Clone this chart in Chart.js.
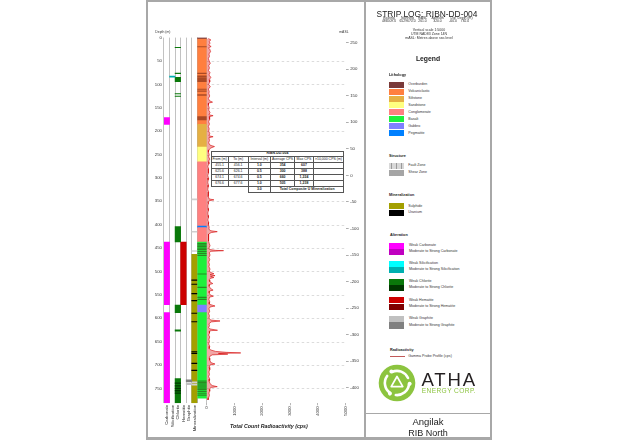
<!DOCTYPE html>
<html><head><meta charset="utf-8">
<script src="https://cdn.jsdelivr.net/npm/chart.js@4/dist/chart.umd.min.js"></script>
<style>
body{margin:0;background:#fff;width:640px;height:440px;overflow:hidden;position:relative;font-family:"Liberation Sans",Arial,sans-serif;color:#222;}
.t{position:absolute;white-space:nowrap;line-height:1;}
.c{transform:translateX(-50%);}
.b{font-weight:bold;}
.sw{position:absolute;left:389px;width:15px;}
#tbl{position:absolute;left:210.7px;top:151px;width:132.6px;border-collapse:collapse;table-layout:fixed;font-size:3.5px;background:#fff;color:#222;}
#tbl td{border:0.6px solid #555;padding:0;text-align:center;line-height:1;overflow:hidden;white-space:nowrap;}
#tbl td.n{border:none;}
#tbl td.k{font-weight:bold;}
</style></head><body>

<!-- page frame -->
<div style="position:absolute;left:146px;top:0;width:342px;height:435px;border:2px solid #a8a8a8;border-bottom-width:3px;"></div>
<div style="position:absolute;left:364px;top:0;width:2px;height:440px;background:#a8a8a8;"></div>
<div style="position:absolute;left:366px;top:412.5px;width:124px;height:1.5px;background:#a8a8a8;"></div>

<canvas id="c" width="216" height="411" style="position:absolute;left:148px;top:29px;"></canvas>

<div class="t" style="left:155.3px;top:30.6px;font-size:3.4px;color:#333">Depth (m)</div>
<div class="t" style="left:339.3px;top:30.6px;font-size:3.4px;color:#333">mASL</div>
<div class="t b" style="left:230px;top:424.3px;font-size:5.3px;font-style:italic;color:#222">Total Count Radioactivity (cps)</div>

<table id="tbl"></table>

<!-- right panel header -->
<div class="t c" style="left:427px;top:9.5px;font-size:8.4px">STRIP LOG: RIBN-DD-004</div>
<div class="t c" style="left:389px;top:17px;font-size:3.4px;color:#333">Easting</div>
<div class="t c" style="left:407.5px;top:17px;font-size:3.4px;color:#333">Northing</div>
<div class="t c" style="left:422.5px;top:17px;font-size:3.4px;color:#333">mASL</div>
<div class="t c" style="left:437.5px;top:17px;font-size:3.4px;color:#333">Azimuth</div>
<div class="t c" style="left:453px;top:17px;font-size:3.4px;color:#333">Dip</div>
<div class="t c" style="left:465px;top:17px;font-size:3.4px;color:#333">Depth (m)</div>
<div class="t c" style="left:389px;top:20px;font-size:3.4px;color:#333">486509.0</div>
<div class="t c" style="left:407.5px;top:20px;font-size:3.4px;color:#333">6529670.0</div>
<div class="t c" style="left:422.5px;top:20px;font-size:3.4px;color:#333">261.0</div>
<div class="t c" style="left:437.5px;top:20px;font-size:3.4px;color:#333">320.0</div>
<div class="t c" style="left:453px;top:20px;font-size:3.4px;color:#333">-60.0</div>
<div class="t c" style="left:465px;top:20px;font-size:3.4px;color:#333">782.0</div>
<div class="t c" style="left:429px;top:29px;font-size:3.5px;color:#333">Vertical scale 1:5000</div>
<div class="t c" style="left:429px;top:33px;font-size:3.5px;color:#333">UTM NAD83 Zone 14N</div>
<div class="t c" style="left:429px;top:37px;font-size:3.5px;color:#333">mASL: Metres above sea level</div>

<div class="t c b" style="left:428px;top:56.1px;font-size:6.8px">Legend</div>

<div class="t b" style="left:389px;top:74.1px;font-size:3.8px">Lithology</div>
<div id="lithLegend"></div>

<div class="t b" style="left:389px;top:155.4px;font-size:3.8px">Structure</div>
<div class="sw" style="top:162.7px;height:6.6px;background:repeating-linear-gradient(90deg,#d8d8d8 0,#d8d8d8 2px,#9a9a9a 2px,#9a9a9a 2.6px);"></div>
<div class="sw" style="top:169.6px;height:6.4px;background:radial-gradient(circle,#8a8a8a 0.5px,#e0e0e0 0.7px) 0 0/1.6px 1.6px;"></div>
<div class="t" style="left:408.3px;top:164.2px;font-size:3.6px;color:#333">Fault Zone</div>
<div class="t" style="left:408.3px;top:171px;font-size:3.6px;color:#333">Shear Zone</div>

<div class="t b" style="left:389px;top:194.1px;font-size:3.8px">Mineralization</div>
<div class="sw" style="top:203.3px;height:6px;background:#a39f00;"></div>
<div class="sw" style="top:210px;height:6px;background:#000;"></div>
<div class="t" style="left:408.3px;top:204.5px;font-size:3.6px;color:#333">Sulphide</div>
<div class="t" style="left:408.3px;top:211.2px;font-size:3.6px;color:#333">Uranium</div>

<div class="t b" style="left:390px;top:234.1px;font-size:3.8px">Alteration</div>
<div id="altLegend"></div>

<div class="t b" style="left:390px;top:348.8px;font-size:3.8px">Radioactivity</div>
<div style="position:absolute;left:390px;top:356.4px;width:15px;height:0.7px;background:#c25a5a;"></div>
<div class="t" style="left:408.3px;top:354.9px;font-size:3.6px;color:#333">Gamma Probe Profile (cps)</div>

<!-- logo -->
<svg width="40" height="40" viewBox="-20 -20 40 40" style="position:absolute;left:376.7px;top:363.3px">
<defs><g id="bl"><path d="M-5,-11 A12,12 0 0 1 11,-5" fill="none" stroke="#fff" stroke-width="2.6" stroke-linecap="round"/><circle cx="-5.6" cy="-11.4" r="2" fill="#fff"/></g></defs>
<circle r="18.3" fill="#8cc43f"/>
<use href="#bl"/><use href="#bl" transform="rotate(120)"/><use href="#bl" transform="rotate(240)"/>
<path d="M0,-6.5 L5.8,3.6 L-5.8,3.6 Z" fill="none" stroke="#fff" stroke-width="1.7" stroke-linejoin="round"/>
</svg>
<div class="t" style="left:421.5px;top:371px;font-size:18.6px;letter-spacing:1.8px;color:#231f20">ATHA</div>
<div class="t" style="left:421.7px;top:387.9px;font-size:6.6px;letter-spacing:0.4px;color:#8cc43f">ENERGY CORP.</div>

<div class="t c" style="left:428px;top:416.5px;font-size:9.5px;color:#222">Angilak</div>
<div class="t c" style="left:428px;top:428.5px;font-size:9px;color:#222">RIB North</div>

<script>
// ---------------- data ----------------
const trackNames = ['Carbonate','Silicification','Chlorite','Hematite','Graphite','Mineralization'];
const lithologyNames = ['Overburden','Volcaniclastic','Siltstone','Sandstone','Conglomerate','Basalt','Gabbro','Pegmatite'];

// depth intervals (m): [from, to, class]
const lithology = [[0,3,'Overburden'],[3,185.5,'Volcaniclastic'],[185.5,234,'Siltstone'],[234,265.5,'Sandstone'],
  [265.5,403,'Conglomerate'],[403,406.5,'Pegmatite'],[406.5,437,'Conglomerate'],[437,572,'Basalt'],
  [572,588,'Gabbro'],[588,771,'Basalt']];
const structureZones = [[19,20],[76,77],[82,85],[87,94],[110,111],[114,115],[122,123.5],[169,176],
  [440,441],[443,444],[446,447.5],[450,451],[453,454],[457,458],[461,462],[465,466.5],[505,506],
  [533.5,534.5],[555,556],[559,560.5],[734,735],[737,738],[740,741],[743,744],[746,747],[749,750],
  [752,753],[756,757],[760,761],[764,765]];
const carbonate = [[171,185.5,'W'],[437,571,'W'],[588,781,'W']];
const silicification = [[82.5,84.5,'M']];
const chlorite = [[21,21.6,'W'],[76,77,'W'],[85,94,'W'],[119.5,120.2,'W'],[125,125.8,'W'],[404,437,'W'],
  [572,588,'W'],[625,628,'W'],[729,781,'W'],[738,739.5,'M'],[744,745.5,'M'],[749.5,751,'M'],[754.5,756,'M'],[759.5,761,'M']];
const hematite = [[437,571,'W']];
const graphite = [[732,735.5,'M'],[738,742,'W']];
const mineralization = [[345,347,'G'],[414,416,'G'],[455.5,457,'G'],[463.5,781,'S'],[518,519,'U'],[527,528,'U'],
  [547,548,'U'],[562,563,'U'],[589,590,'U'],[607,608,'U'],[671.5,672.5,'U'],[675,676,'U'],[696,697,'U'],
  [711,712,'U'],[736,738.5,'G'],[741,743,'G']];

// gamma probe profile: [depth m, cps]
const gammaProfile = [[2,60],[5,150],[8,90],[12,120],[16,70],[19,160],[22,60],[25,110],[30,140],[35,80],[40,100],[45,60],
  [50,90],[55,130],[60,70],[65,100],[70,60],[75,120],[80,80],[85,150],[90,90],[95,110],[100,70],[105,130],[110,60],
  [115,90],[120,80],[125,110],[130,60],[135,100],[138,210],[140,70],[145,60],[150,90],[155,70],[160,120],[165,80],
  [167,230],[169,90],[172,100],[175,110],[180,70],[185,100],[190,60],[195,90],[200,70],[205,110],[210,80],[212,230],
  [214,80],[220,100],[225,70],[230,120],[233,280],[236,150],[240,80],[245,60],[250,90],[255,70],[260,110],[265,60],
  [270,80],[275,40],[280,60],[285,50],[290,70],[295,40],[300,60],[305,50],[310,40],[315,60],[320,50],[325,40],
  [330,70],[335,50],[340,60],[345,90],[347,260],[349,90],[352,50],[355,60],[360,40],[365,50],[370,60],[375,40],
  [380,50],[385,60],[390,40],[395,70],[400,60],[405,90],[410,80],[413,150],[415,380],[417,160],[420,70],[425,60],
  [430,80],[435,60],[440,90],[445,120],[450,80],[453,100],[455,320],[455.6,607],[456.2,420],[457,150],[460,90],
  [465,120],[470,80],[475,110],[480,70],[485,100],[490,80],[495,120],[500,90],[503,180],[505,260],[507,120],
  [509,300],[511,140],[513,260],[515,120],[518,90],[522,110],[526,220],[528,100],[532,90],[536,130],[540,230],
  [542,100],[546,90],[550,120],[553,240],[555,100],[560,80],[565,110],[570,90],[574,300],[576,120],[580,80],
  [585,110],[590,70],[595,100],[600,80],[604,150],[606,480],[608,160],[612,80],[616,100],[620,70],[623,120],
  [625.8,388],[626.5,180],[628,90],[632,100],[636,70],[640,110],[645,80],[650,100],[655,70],[660,110],[665,90],
  [668,150],[671,320],[673,700],[674.3,1224],[675.3,420],[676.9,760],[678.5,200],[681,120],[685,90],[690,110],
  [695,150],[698,300],[700,120],[705,90],[710,110],[715,80],[720,100],[725,70],[730,110],[735,90],[740,120],
  [744,200],[746.5,380],[748,160],[752,90],[756,110],[760,80],[765,100],[770,70],[775,50]];

// mineralized intervals table
const assayHeader = ['From (m)','To (m)','Interval (m)','Average CPS','Max CPS','>10,000 CPS (m)'];
const assayRows = [['455.1','456.1','1.0','354','607',''],['625.6','626.1','0.5','300','388',''],
  ['674.1','674.6','0.5','660','1,224',''],['676.6','677.6','1.0','505','1,238','']];
const assayTotal = ['3.0','Total Composite U Mineralization'];

// depth / elevation axis ranges
const depthMin = 0, depthMax = 782;
const elevTop = 259.6, elevBottom = -429.4;
const cpsMax = 5000;

// ---------------- styles ----------------
const lithColors = {Overburden:'#7a3a3a',Volcaniclastic:'#ff7f3f',Siltstone:'#e5b043',Sandstone:'#ffff80',
  Conglomerate:'#ff8080',Basalt:'#1ef03c',Gabbro:'#8080ff',Pegmatite:'#0080ff'};
const altColors = {
  Carbonate:{W:'#ff00ff',M:'#c000c0'}, Silicification:{W:'#00ffff',M:'#00b0b0'},
  Chlorite:{W:'#0a780a',M:'#003800'}, Hematite:{W:'#cc0000',M:'#800000'},
  Graphite:{W:'#c0c0c0',M:'#808080'}, Mineralization:{S:'#a39f00',U:'#000000',G:'#cfcfcf'}};
const altLegend = [['Carbonate','Carbonate'],['Silicification','Silicification'],['Chlorite','Chlorite'],['Hematite','Hematite'],['Graphite','Graphite']];

// legends (HTML)
(function(){
  const lg = document.getElementById('lithLegend');
  lithologyNames.forEach((n,i)=>{
    const top = 81.7 + i*6.93;
    lg.insertAdjacentHTML('beforeend',
      `<div class="sw" style="top:${top}px;height:6px;background:${lithColors[n]}"></div>`+
      `<div class="t" style="left:408.3px;top:${top+1.3}px;font-size:3.6px;color:#333">${n}</div>`);
  });
  const al = document.getElementById('altLegend');
  const tops = [242.7,260.7,278.7,297.3,316];
  altLegend.forEach((a,i)=>{
    const t = tops[i], c = altColors[a[0]];
    al.insertAdjacentHTML('beforeend',
      `<div class="sw" style="top:${t}px;height:6.2px;background:${c.W}"></div>`+
      `<div class="sw" style="top:${t+6.2}px;height:6.4px;background:${c.M}"></div>`+
      `<div class="t" style="left:409px;top:${t+1.4}px;font-size:3.6px;color:#333">Weak ${a[1]}</div>`+
      `<div class="t" style="left:409px;top:${t+7.6}px;font-size:3.6px;color:#333">Moderate to Strong ${a[1]}</div>`);
  });
  const tb = document.getElementById('tbl');
  let h = '<colgroup><col style="width:17px"><col style="width:20px"><col style="width:22.3px"><col style="width:24.3px"><col style="width:18.4px"><col style="width:30.6px"></colgroup>';
  h += '<tr style="height:5.3px"><td colspan="6" class="k">RIBN-DD-004</td></tr>';
  h += '<tr style="height:6px">' + assayHeader.map(x=>`<td>${x.replace('>','&gt;')}</td>`).join('') + '</tr>';
  assayRows.forEach(r=>{
    h += '<tr style="height:6px">' + r.map((x,i)=>`<td class="${i>=2?'k':''}">${x}</td>`).join('') + '</tr>';
  });
  h += `<tr style="height:5.3px"><td class="n"></td><td class="n"></td><td class="k">${assayTotal[0]}</td><td colspan="3" class="k">${assayTotal[1]}</td></tr>`;
  tb.innerHTML = h;
})();

// ---------------- chart ----------------
Chart.defaults.font.family = '"Liberation Sans", Arial, sans-serif';
const toBars = (list, cat, cmap) => ({
  data: list.map(r => ({x: cat, y: [r[0], r[1]]})),
  backgroundColor: list.map(r => cmap[r[2]])
});

const depthGrid = {
  id: 'depthGrid',
  beforeDatasetsDraw(chart) {
    const {ctx} = chart, y = chart.scales.y, x = chart.scales.cps;
    ctx.save();
    ctx.setLineDash([2.5, 2.5]);
    ctx.strokeStyle = '#c4c4c4';
    ctx.lineWidth = 0.6;
    y.ticks.forEach(t => {
      if (t.value === depthMin) return;
      const py = Math.round(y.getPixelForValue(t.value)) + 0.5;
      ctx.beginPath(); ctx.moveTo(x.left, py); ctx.lineTo(x.right, py); ctx.stroke();
    });
    ctx.restore();
  }
};

const fitH = s => { s.height = 28; };
const tickFont = {size: 4.3};
const trackGrid = {offset: true, color: '#a8a8a8', lineWidth: 0.7, drawTicks: false};

new Chart(document.getElementById('c'), {
  type: 'bar',
  data: {
    datasets: [
      {type: 'line', label: 'Gamma Probe Profile (cps)', indexAxis: 'y', xAxisID: 'cps', yAxisID: 'y',
       data: gammaProfile.map(p => ({x: p[1], y: p[0]})),
       borderColor: '#d40000', borderWidth: 0.6, backgroundColor: 'rgba(215,0,0,0.35)',
       fill: 'origin', pointRadius: 0, tension: 0},
      {label: 'Carbonate', xAxisID: 'tracks', yAxisID: 'y', ...toBars(carbonate, 'Carbonate', altColors.Carbonate)},
      {label: 'Silicification', xAxisID: 'tracks', yAxisID: 'y', ...toBars(silicification, 'Silicification', altColors.Silicification)},
      {label: 'Chlorite', xAxisID: 'tracks', yAxisID: 'y', ...toBars(chlorite, 'Chlorite', altColors.Chlorite)},
      {label: 'Hematite', xAxisID: 'tracks', yAxisID: 'y', ...toBars(hematite, 'Hematite', altColors.Hematite)},
      {label: 'Graphite', xAxisID: 'tracks', yAxisID: 'y', ...toBars(graphite, 'Graphite', altColors.Graphite)},
      {label: 'Mineralization', xAxisID: 'tracks', yAxisID: 'y', ...toBars(mineralization, 'Mineralization', altColors.Mineralization)},
      {label: 'Structure', xAxisID: 'lith', yAxisID: 'y',
       data: structureZones.map(r => ({x: 'Lithology', y: [r[0], r[1]]})), backgroundColor: 'rgba(55,0,0,0.42)'},
      {label: 'Lithology', xAxisID: 'lith', yAxisID: 'y',
       data: lithology.map(r => ({x: 'Lithology', y: [r[0], r[1]]})), backgroundColor: lithology.map(r => lithColors[r[2]])}
    ]
  },
  options: {
    responsive: false, animation: false, devicePixelRatio: 1,
    layout: {padding: {top: 8.6, bottom: 8.7, left: 0, right: 0}},
    datasets: {bar: {grouped: false, categoryPercentage: 1, barPercentage: 1, borderWidth: 0}},
    plugins: {legend: {display: false}, tooltip: {enabled: false}},
    scales: {
      tracks: {type: 'category', axis: 'x', position: 'bottom', stack: 'bottom', stackWeight: 33.3, labels: trackNames,
        offset: true, grid: trackGrid, border: {display: false},
        ticks: {autoSkip: false, minRotation: 90, maxRotation: 90, font: tickFont, color: '#333', padding: 1.5},
        afterFit: fitH},
      lith: {type: 'category', axis: 'x', position: 'bottom', stack: 'bottom', stackWeight: 9.4, labels: ['Lithology'],
        offset: true, grid: trackGrid, border: {display: false}, ticks: {display: false}, afterFit: fitH},
      cps: {type: 'linear', axis: 'x', position: 'bottom', stack: 'bottom', stackWeight: 139, min: 0, max: cpsMax,
        offset: false, beginAtZero: true,
        ticks: {stepSize: 1000, autoSkip: false, minRotation: 90, maxRotation: 90, font: tickFont, color: '#333', padding: 1,
          callback: v => String(v)},
        grid: {offset: false, drawOnChartArea: false, drawTicks: true, tickLength: 2, color: '#888', lineWidth: 0.6},
        border: {display: false}, afterFit: fitH},
      y: {type: 'linear', axis: 'y', position: 'left', reverse: true, min: depthMin, max: depthMax,
        ticks: {stepSize: 50, includeBounds: false, font: tickFont, color: '#333', padding: 2},
        grid: {display: false, drawTicks: false}, border: {display: false},
        afterFit: s => { s.width = 16; }},
      yR: {type: 'linear', axis: 'y', position: 'right', min: elevBottom, max: elevTop,
        ticks: {stepSize: 50, includeBounds: false, font: tickFont, color: '#333', padding: 1.5},
        grid: {drawOnChartArea: false, tickLength: 3, color: '#777', lineWidth: 0.6}, border: {display: false},
        afterFit: s => { s.width = 18.3; }}
    }
  },
  plugins: [depthGrid]
});
</script>
</body></html>
